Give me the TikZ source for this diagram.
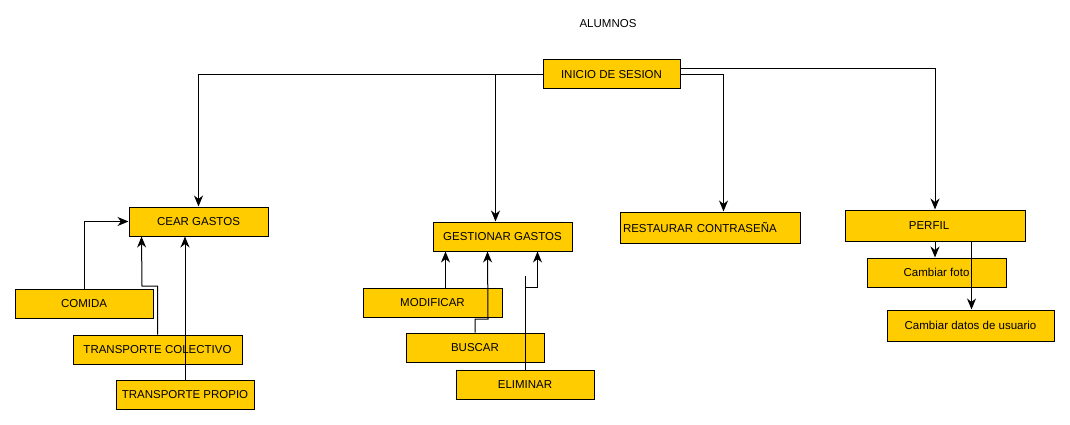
\documentclass[tikz,border=0pt]{standalone}
\usepackage{fontspec}
\setmainfont{Liberation Sans}
\usetikzlibrary{arrows.meta}
\definecolor{gold}{HTML}{FFCC00}
\begin{document}
\begin{tikzpicture}[x=1pt, y=-1pt, line width=1pt, >={Stealth[length=11pt,width=9pt,inset=3.5pt]},
  font=\fontsize{11.5}{13}\selectfont,
  box/.style={draw,fill=gold,minimum height=29pt,inner sep=0pt}]
\useasboundingbox (0,0) rectangle (1070,425);

\node (title) at (608,24) {ALUMNOS};
\node[box,minimum width=137pt] at (611.5,74.5)(inicio) {INICIO DE SESION};

\node[box,minimum width=139pt] at (198.5,221.5)(cear) {CEAR GASTOS};
\node[box,minimum width=138pt] at (84,303.5)(comida) {COMIDA};
\node[box,minimum width=169pt] at (157.5,349.5)(colectivo) {TRANSPORTE COLECTIVO};
\node[box,minimum width=138pt] at (185,395)(propio) {TRANSPORTE PROPIO};

\node[box,minimum width=139pt] at (502.5,236.5)(gestionar) {GESTIONAR GASTOS};
\node[box,minimum width=139pt] at (432.5,302.5)(modificar) {MODIFICAR};
\node[box,minimum width=138pt] at (475,347.5)(buscar) {BUSCAR};
\node[box,minimum width=138pt] at (525,384.5)(eliminar) {ELIMINAR};

\node[box,minimum height=31pt,text width=174pt,inner xsep=3pt,align=left] at (710,227.5)(restaurar) {RESTAURAR CONTRASEÑA};

\node[box,minimum width=180pt,minimum height=31pt] at (935,225.5)(perfil) {\hspace{-12pt}PERFIL};
\node[box,minimum width=139pt] at (936.5,272.5)(foto) {Cambiar foto};
\node[box,minimum width=167pt,minimum height=31pt] at (970.5,325.5)(datos) {Cambiar datos de usuario};

\draw[->] (inicio.west) -| (cear.north);
\draw[->] (inicio.west) -| ([xshift=63pt]gestionar.north west);
\draw[->] (inicio.east) -| ([xshift=104pt]restaurar.north west);
\draw[->] ([yshift=5.5pt]inicio.east) -| (perfil.north);

\draw[->] (comida.north) |- (cear.west);
\draw[->] (colectivo.north) |- (142,286) -- ([xshift=13pt]cear.south west);
\draw[->] (propio.north) -- (propio.north |- cear.south);

\draw[->] ([xshift=83pt]modificar.north west) -- ([xshift=13pt]gestionar.south west);
\draw[->] (buscar.north) |- (488,319) -- ([xshift=55pt]gestionar.south west);
\draw[->] (eliminar.north) -- (525,276) (525,287) -| ([xshift=105pt]gestionar.south west);

\draw[->] (perfil.south) -- (perfil.south |- foto.north);
\draw[->] ([xshift=127pt]perfil.south west) -- ([xshift=127pt]perfil.south west |- datos.north);

\end{tikzpicture}
\end{document}
